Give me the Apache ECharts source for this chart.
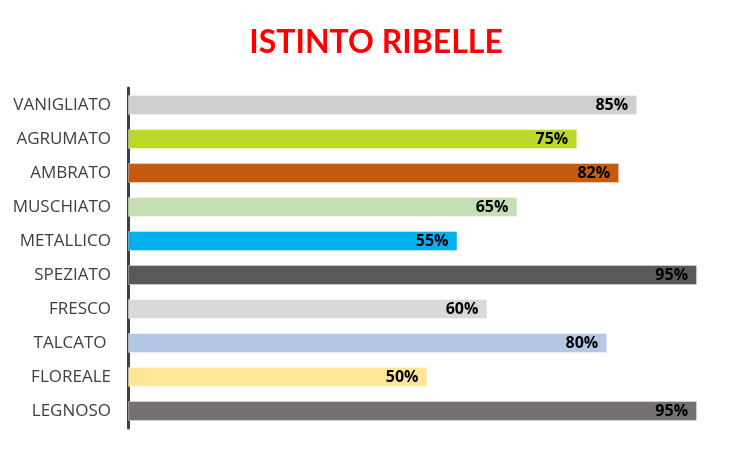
<!DOCTYPE html>
<html>
<head>
<meta charset="utf-8">
<script src="https://cdn.jsdelivr.net/npm/echarts@6/dist/echarts.min.js"></script>
<style>html,body{margin:0;padding:0;background:#fff}#c{width:752px;height:452px}</style>
</head>
<body>
<div id="c"></div>
<script>
const title = "ISTINTO RIBELLE";
const categories = ["VANIGLIATO","AGRUMATO","AMBRATO","MUSCHIATO","METALLICO","SPEZIATO","FRESCO","TALCATO ","FLOREALE","LEGNOSO"];
const values = [85,75,82,65,55,95,60,80,50,95];
const colors = ["#D0CECE","#BED82A","#C55A11","#C5E0B4","#00B0F0","#595959","#D9D9D9","#B4C7E7","#FFE699","#767171"];

const chart = echarts.init(document.getElementById('c'));
chart.setOption({
  animation: false,
  title: {
    text: title, left: 'center', top: 22,
    textStyle: {color: '#FF0000', fontSize: 32, fontWeight: 'bold', fontFamily: 'Lato'}
  },
  grid: {left: 128, right: 25, top: 88, height: 340},
  xAxis: {type: 'value', min: 0, max: 100, show: false},
  yAxis: {
    type: 'category', data: categories, inverse: true,
    axisLine: {show: true, lineStyle: {color: '#404040', width: 3}},
    axisTick: {show: false},
    axisLabel: {color: '#404040', fontSize: 17, fontFamily: 'Open Sans', margin: 17}
  },
  series: [{
    type: 'bar',
    barWidth: 20,
    data: values.map((v, i) => ({value: v, itemStyle: {color: colors[i], borderColor: 'rgba(255,255,255,0.35)', borderWidth: 1}})),
    label: {
      show: true, position: 'insideRight', distance: 9,
      formatter: p => p.value + '%',
      color: '#000', fontWeight: 'bold', fontSize: 16, fontFamily: 'Open Sans'
    }
  }]
});
</script>
</body>
</html>
